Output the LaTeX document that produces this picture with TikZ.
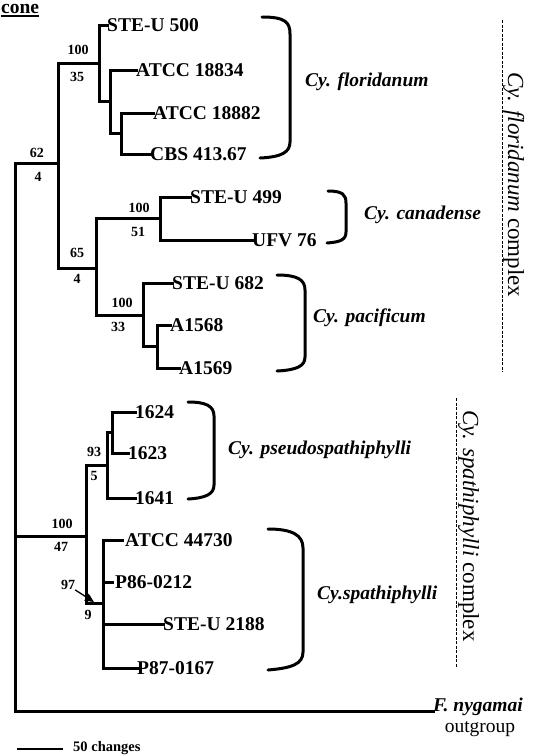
\documentclass[tikz,border=0pt]{standalone}
\usepackage{fontspec}
\setmainfont{Liberation Serif}
\usetikzlibrary{arrows.meta}
\begin{document}
\begin{tikzpicture}[x=1pt,y=-1pt,
  branchline/.style={line width=3pt,line cap=rect,line join=miter},
  leaf/.style={font=\fontsize{19.5}{22}\selectfont\bfseries,inner sep=0pt,anchor=west},
  supp/.style={font=\fontsize{14}{14}\selectfont\bfseries,inner sep=0pt},
  species/.style={font=\fontsize{19.5}{22}\selectfont\bfseries\itshape,inner sep=0pt,anchor=west},
  bracketline/.style={line width=3pt,line cap=round},
  cplx/.style={font=\fontsize{23}{24}\selectfont,inner sep=0pt,rotate=-90,anchor=base},
  dashline/.style={line width=0.9pt,dash pattern=on 3pt off 1.5pt}]
\useasboundingbox (0,0) rectangle (538,756);

% heading fragment
\node[font=\fontsize{19.5}{22}\selectfont\bfseries,inner sep=0pt,anchor=base west] (cone) at (1,13) {cone};
\draw[line width=1.5pt] ([yshift=-3pt]cone.base west) -- ([yshift=-3pt]cone.base east);

% internal nodes
\coordinate (R) at (15,536);
\coordinate (A) at (58,163);
\coordinate (A1) at (99,63);
\coordinate (A11) at (110,101);
\coordinate (A111) at (121,133);
\coordinate (A2) at (96,268);
\coordinate (A21) at (160,218);
\coordinate (A22) at (143,315);
\coordinate (A221) at (157,346);
\coordinate (B) at (86,536);
\coordinate (B1) at (107,465);
\coordinate (B11) at (112,432);
\coordinate (B2) at (103,603);

% leaves
\node[leaf] (l1) at (107,25) {STE-U 500};
\node[leaf] (l2) at (136,70) {ATCC 18834};
\node[leaf] (l3) at (153,113) {ATCC 18882};
\node[leaf] (l4) at (150,154) {CBS 413.67};
\node[leaf] (l5) at (190,197) {STE-U 499};
\node[leaf] (l6) at (252,240) {UFV 76};
\node[leaf] (l7) at (172,283) {STE-U 682};
\node[leaf] (l8) at (170,325) {A1568};
\node[leaf] (l9) at (179,368) {A1569};
\node[leaf] (l10) at (135,412) {1624};
\node[leaf] (l11) at (128,453) {1623};
\node[leaf] (l12) at (135,498) {1641};
\node[leaf,inner xsep=3pt] (l13) at (122,540) {ATCC 44730};
\node[leaf,inner xsep=3pt] (l14) at (112,582) {P86-0212};
\node[leaf] (l15) at (163,624) {STE-U 2188};
\node[leaf] (l16) at (137,668) {P87-0167};
\node[font=\fontsize{19.5}{22}\selectfont\bfseries\itshape,inner sep=0pt,anchor=base west] (og) at (433,711) {F. nygamai};
\node[font=\fontsize{19.5}{22}\selectfont,inner sep=0pt] (ogl) at (480,729) {outgroup};

% branches
\draw[branchline] (R) |- (A);
\draw[branchline] (R) |- (B);
\draw[branchline] (R) |- (og.base west);
\draw[branchline] (A) |- (A1);
\draw[branchline] (A) |- (A2);
\draw[branchline] (A1) |- (l1.west);
\draw[branchline] (A1) |- (A11);
\draw[branchline] (A11) |- (l2.west);
\draw[branchline] (A11) |- (A111);
\draw[branchline] (A111) |- (l3.west);
\draw[branchline] (A111) |- (l4.west);
\draw[branchline] (A2) |- (A21);
\draw[branchline] (A2) |- (A22);
\draw[branchline] (A21) |- (l5.west);
\draw[branchline] (A21) |- (l6.west);
\draw[branchline] (A22) |- (l7.west);
\draw[branchline] (A22) |- (A221);
\draw[branchline] (A221) |- (l8.west);
\draw[branchline] (A221) |- (l9.west);
\draw[branchline] (B) |- (B1);
\draw[branchline] (B) |- (B2);
\draw[branchline] (B1) |- (B11);
\draw[branchline] (B1) |- (l12.west);
\draw[branchline] (B11) |- (l10.west);
\draw[branchline] (B11) |- (l11.west);
\draw[branchline] (B2) |- (l13.west);
\draw[branchline] (B2) |- (l14.west);
\draw[branchline] (B2) |- (l15.west);
\draw[branchline] (B2) |- (l16.west);

% support values
\node[supp] (s1a) at (37,153) {62};
\node[supp] (s1b) at (38,177) {4};
\node[supp] (s2a) at (78,50) {100};
\node[supp] (s2b) at (77,77) {35};
\node[supp] (s3a) at (77,253) {65};
\node[supp] (s3b) at (77,279) {4};
\node[supp] (s4a) at (139,208) {100};
\node[supp] (s4b) at (138,232) {51};
\node[supp] (s5a) at (122,303) {100};
\node[supp] (s5b) at (118,327) {33};
\node[supp] (s6a) at (94,452) {93};
\node[supp] (s6b) at (94,476) {5};
\node[supp] (s7a) at (62,524) {100};
\node[supp] (s7b) at (61,547) {47};
\node[supp] (s8a) at (68,585) {97};
\node[supp] (s8b) at (88,615) {9};
\coordinate (tip97) at (94,602);
\draw[line width=1.3pt,-{Triangle[length=9pt,width=8pt]}] (s8a.south east) -- (tip97);

% brackets
\draw[bracketline] (262,17) .. controls (285,17) and (290,22) .. (290,34) -- (290,142) .. controls (290,152) and (282,157) .. (260,158);
\draw[bracketline] (328,191) .. controls (343,191) and (346,195) .. (346,203) -- (346,232) .. controls (346,240) and (340,242) .. (327,243);
\draw[bracketline] (277,275) .. controls (298,275) and (305,280) .. (305,290) -- (305,357) .. controls (305,366) and (297,370) .. (277,371);
\draw[bracketline] (188,402) .. controls (206,402) and (214,406) .. (214,416) -- (214,485) .. controls (214,494) and (206,498) .. (188,499);
\draw[bracketline] (268,529) .. controls (292,529) and (303,535) .. (303,548) -- (303,652) .. controls (303,664) and (292,668) .. (268,670);

% species labels
\node[species] (sp1) at (305,82) {Cy. floridanum};
\node[species] (sp2) at (364,215) {Cy. canadense};
\node[species] (sp3) at (313,318) {Cy. pacificum};
\node[species] (sp4) at (228,450) {Cy. pseudospathiphylli};
\node[species] (sp5) at (317,595) {Cy.spathiphylli};

% complexes
\coordinate (d1a) at (502,20);
\coordinate (d1b) at (502,372);
\draw[dashline] (d1a) -- (d1b);
\node[cplx] (c1) at (508,185) {\itshape Cy. floridanum\/ \upshape complex};
\coordinate (d2a) at (456,398);
\coordinate (d2b) at (456,668);
\draw[dashline] (d2a) -- (d2b);
\node[cplx] (c2) at (463,526) {\itshape Cy. spathiphylli\/ \upshape complex};

% scale bar
\coordinate (sb1) at (17,749);
\coordinate (sb2) at (63,749);
\draw[line width=1.5pt] (sb1) -- (sb2);
\node[font=\fontsize{14.5}{15}\selectfont\bfseries,inner sep=0pt,anchor=west] (sbl) at (73,748) {50 changes};
\end{tikzpicture}
\end{document}
